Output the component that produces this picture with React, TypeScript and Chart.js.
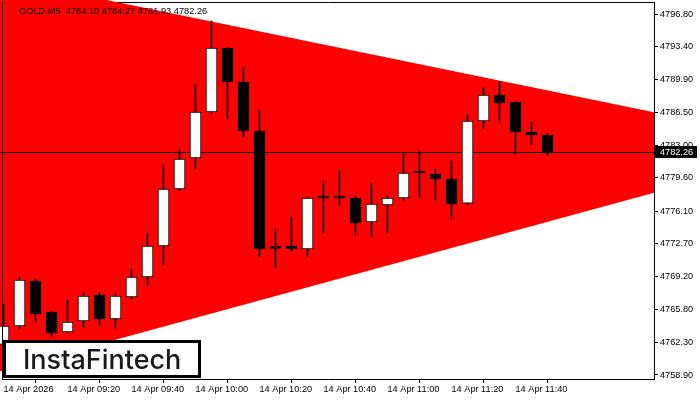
import React, { useEffect, useRef } from "react";
import { Chart, registerables } from "chart.js";

Chart.register(...registerables);

const symbolTitle = "GOLD,M5";
const logoText = "InstaFintech";

const times = [
  "09:00", "09:05", "09:10", "09:15", "09:20", "09:25", "09:30", "09:35", "09:40", "09:45",
  "09:50", "09:55", "10:00", "10:05", "10:10", "10:15", "10:20", "10:25", "10:30", "10:35",
  "10:40", "10:45", "10:50", "10:55", "11:00", "11:05", "11:10", "11:15", "11:20", "11:25",
  "11:30", "11:35", "11:40", "11:45", "11:50",
];
const opens = [
  4762.10, 4764.04, 4768.77, 4765.51, 4763.41, 4764.57, 4767.30, 4764.78, 4767.09, 4769.19,
  4772.44, 4778.43, 4781.68, 4786.51, 4793.23, 4789.66, 4784.52, 4772.20, 4772.44, 4772.13,
  4777.48, 4777.48, 4777.48, 4774.96, 4776.75, 4777.48, 4780.11, 4780.00, 4779.48, 4776.95,
  4785.57, 4788.30, 4787.56, 4784.41, 4784.10,
];
const highs = [
  4766.35, 4769.19, 4768.98, 4765.60, 4766.77, 4767.61, 4767.61, 4767.40, 4770.03, 4773.81,
  4780.84, 4782.52, 4789.45, 4796.07, 4793.30, 4791.24, 4786.72, 4774.23, 4775.49, 4777.55,
  4779.27, 4780.32, 4777.69, 4779.06, 4777.69, 4782.10, 4782.42, 4780.53, 4781.37, 4786.20,
  4789.03, 4789.66, 4787.60, 4785.46, 4784.27,
];
const lows = [
  4761.80, 4763.73, 4764.46, 4762.89, 4763.35, 4763.94, 4764.15, 4763.83, 4766.88, 4768.35,
  4770.45, 4778.30, 4780.53, 4786.30, 4785.78, 4783.89, 4771.29, 4770.13, 4771.92, 4771.29,
  4773.81, 4776.75, 4773.60, 4773.39, 4773.81, 4777.27, 4777.59, 4777.27, 4775.28, 4776.85,
  4784.73, 4785.46, 4782.10, 4783.05, 4781.93,
];
const closes = [
  4764.04, 4768.87, 4765.30, 4763.31, 4764.46, 4767.19, 4764.78, 4767.19, 4769.19, 4772.44,
  4778.43, 4781.58, 4786.51, 4793.23, 4789.66, 4784.52, 4772.13, 4772.20, 4772.13, 4777.48,
  4777.48, 4777.48, 4774.86, 4776.85, 4777.48, 4780.11, 4780.11, 4779.48, 4776.85, 4785.57,
  4788.30, 4787.46, 4784.41, 4784.10, 4782.26,
];

const yTickValues = [
  4796.80, 4793.40, 4789.90, 4786.50, 4783.00, 4779.60, 4776.10, 4772.70, 4769.20, 4765.80,
  4762.30, 4758.90,
];
const xTickTimes = ["09:00", "09:20", "09:40", "10:00", "10:20", "10:40", "11:00", "11:20", "11:40"];
const xTickLabels = [
  "14 Apr 2026", "14 Apr 09:20", "14 Apr 09:40", "14 Apr 10:00", "14 Apr 10:20",
  "14 Apr 10:40", "14 Apr 11:00", "14 Apr 11:20", "14 Apr 11:40",
];

// triangle pattern borders (bar index, price)
const triangleX = [-1, 41];
const triangleUpper = [4800.83, 4786.37];
const triangleLower = [4758.94, 4778.2];

const yRange = [4758.48, 4798.27];
const xRange = [-0.21875, 40.65625];

const FONT = "'Liberation Sans', Arial, sans-serif";

export default function App() {
  const ref = useRef<HTMLCanvasElement | null>(null);

  useEffect(() => {
    const canvas = ref.current;
    if (!canvas) return;
    const n = times.length;
    const last = n - 1;
    const bid = closes[last];
    const bodyColors = times.map((_, i) => (closes[i] > opens[i] ? "#ffffff" : "#000000"));

    const decor = {
      id: "decor",
      beforeDraw(chart: any) {
        const ctx = chart.ctx;
        ctx.save();
        ctx.fillStyle = "#ffffff";
        ctx.fillRect(0, 0, chart.width, chart.height);
        ctx.restore();
      },
      beforeDatasetsDraw(chart: any) {
        const ctx = chart.ctx;
        const a = chart.chartArea;
        ctx.save();
        ctx.strokeStyle = "#000";
        ctx.lineWidth = 1;
        ctx.beginPath();
        ctx.moveTo(2, 2.5);
        ctx.lineTo(a.right + 1, 2.5);
        ctx.moveTo(a.right + 0.5, 2);
        ctx.lineTo(a.right + 0.5, a.bottom + 1);
        ctx.moveTo(2, a.bottom + 0.5);
        ctx.lineTo(a.right + 1, a.bottom + 0.5);
        ctx.stroke();
        ctx.restore();
      },
      afterDatasetsDraw(chart: any) {
        const ctx = chart.ctx;
        const a = chart.chartArea;
        ctx.save();
        ctx.strokeStyle = "#000";
        ctx.lineWidth = 1;
        ctx.beginPath();
        ctx.moveTo(2.5, 2);
        ctx.lineTo(2.5, a.bottom + 1);
        ctx.stroke();
        ctx.restore();
      },
      afterDraw(chart: any) {
        const ctx = chart.ctx;
        const a = chart.chartArea;
        const ys = chart.scales.y;
        ctx.save();
        // title
        ctx.fillStyle = "#000";
        ctx.font = `9.25px ${FONT}`;
        ctx.textBaseline = "alphabetic";
        ctx.textAlign = "left";
        const title = `${symbolTitle}  ${opens[last].toFixed(2)} ${highs[last].toFixed(2)} ${lows[last].toFixed(2)} ${closes[last].toFixed(2)}`;
        ctx.fillText(title, 19, 14);
        // bid label
        const yp = Math.round(ys.getPixelForValue(bid));
        ctx.fillStyle = "#000";
        ctx.fillRect(a.right + 1, yp - 6, 42, 12);
        ctx.fillStyle = "#fff";
        ctx.font = `9.2px ${FONT}`;
        ctx.textBaseline = "middle";
        ctx.fillText(bid.toFixed(2), 660, yp + 0.5);
        // logo
        ctx.fillStyle = "#fff";
        ctx.fillRect(3, 340, 198, 38);
        ctx.strokeStyle = "#000";
        ctx.lineWidth = 3;
        ctx.strokeRect(4.5, 341.5, 195, 35);
        ctx.fillStyle = "#1a1a1a";
        ctx.font = `500 27px Inter, 'Noto Sans', sans-serif`;
        ctx.textBaseline = "alphabetic";
        ctx.fillText(logoText, 23, 369);
        ctx.restore();
      },
    };

    const chart = new Chart(canvas, {
      type: "bar",
      data: {
        datasets: [
          {
            type: "line",
            label: "upper",
            data: triangleX.map((x, i) => ({ x, y: triangleUpper[i] })),
            borderColor: "rgba(0,0,0,0)",
            borderWidth: 0,
            pointRadius: 0,
            backgroundColor: "#ff0000",
            fill: "+1",
            order: 10,
          },
          {
            type: "line",
            label: "lower",
            data: triangleX.map((x, i) => ({ x, y: triangleLower[i] })),
            borderColor: "rgba(0,0,0,0)",
            borderWidth: 0,
            pointRadius: 0,
            fill: false,
            order: 9,
          },
          {
            type: "line",
            label: "bid",
            data: [
              { x: xRange[0] - 1, y: bid },
              { x: xRange[1] + 1, y: bid },
            ],
            borderColor: "#000",
            borderWidth: 1,
            pointRadius: 0,
            fill: false,
            order: 5,
          },
          {
            type: "bar",
            label: "wick",
            data: times.map((_, i) => ({ x: i, y: [lows[i], highs[i]] })),
            backgroundColor: "#000",
            borderWidth: 0,
            barThickness: 1,
            grouped: false,
            order: 2,
          },
          {
            type: "bar",
            label: "body",
            data: times.map((_, i) => ({ x: i, y: [opens[i], closes[i]] })),
            backgroundColor: bodyColors,
            borderColor: "#000",
            borderWidth: 1,
            borderSkipped: false,
            barThickness: 11,
            minBarLength: 2,
            grouped: false,
            order: 1,
          },
        ] as any,
      },
      options: {
        animation: false,
        responsive: false,
        devicePixelRatio: 1,
        events: [],
        layout: { padding: 0 },
        plugins: { legend: { display: false }, tooltip: { enabled: false }, title: { display: false } },
        scales: {
          x: {
            type: "linear",
            position: "bottom",
            min: xRange[0],
            max: xRange[1],
            offset: false,
            afterBuildTicks: (s: any) => {
              s.ticks = xTickTimes.map((t) => ({ value: times.indexOf(t) }));
            },
            afterFit: (s: any) => {
              s.height = 21;
              s.paddingLeft = 0;
              s.paddingRight = 0;
            },
            ticks: {
              autoSkip: false,
              maxRotation: 0,
              minRotation: 0,
              align: "start",
              padding: 1,
              color: "#000",
              font: { family: FONT, size: 9.2 },
              callback: (v: any) => {
                const k = xTickTimes.findIndex((t) => times.indexOf(t) === Number(v));
                return k >= 0 ? xTickLabels[k] : "";
              },
            },
            grid: { drawOnChartArea: false, drawTicks: true, tickLength: 4, color: "#000", lineWidth: 1 },
            border: { display: false },
          },
          y: {
            type: "linear",
            position: "right",
            min: yRange[0],
            max: yRange[1],
            afterBuildTicks: (s: any) => {
              s.ticks = yTickValues.map((v) => ({ value: v }));
            },
            afterFit: (s: any) => {
              s.width = 46;
              s.paddingTop = 0;
              s.paddingBottom = 0;
            },
            ticks: {
              color: "#000",
              padding: 2,
              crossAlign: "near",
              font: { family: FONT, size: 9.2 },
              callback: (v: any) => Number(v).toFixed(2),
            },
            grid: { drawOnChartArea: false, drawTicks: true, tickLength: 4, color: "#000", lineWidth: 1 },
            border: { display: false },
          },
        },
      } as any,
      plugins: [decor],
    });

    return () => chart.destroy();
  }, []);

  return (
    <div style={{ position: "fixed", left: 0, top: 0, width: 700, height: 400, background: "#fff" }}>
      <canvas ref={ref} width={700} height={400} style={{ display: "block", width: 700, height: 400 }} />
    </div>
  );
}
